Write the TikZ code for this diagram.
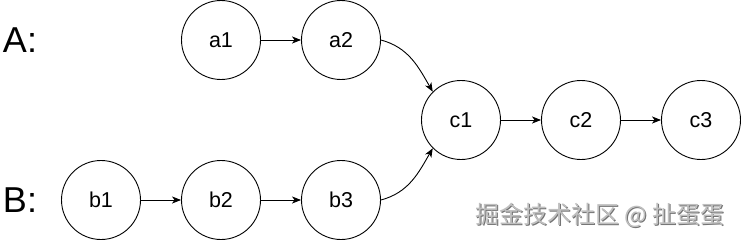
\documentclass[tikz,border=0pt]{standalone}
\usepackage{fontspec}
\setmainfont{Liberation Sans}
\newfontfamily\cjk{Noto Sans CJK SC}
\usetikzlibrary{arrows.meta}
\begin{document}
\begin{tikzpicture}[x=1pt,y=-1pt,
  listnode/.style={circle,draw,line width=0.9pt,minimum size=79pt,inner sep=0pt,font=\fontsize{21.5}{24}\selectfont},
  link/.style={line width=0.9pt,-{Stealth[length=9pt,width=7pt,inset=2.5pt]}},
  rowlabel/.style={font=\fontsize{36}{40}\selectfont,inner sep=0pt}]
\useasboundingbox (0,0) rectangle (742,241);
\node[rowlabel] (la) at (20,40) {A:};
\node[rowlabel] (lb) at (20,200) {B:};
\node[listnode] (a1) at (221,40) {a1};
\node[listnode] (a2) at (341,40) {a2};
\node[listnode] (c1) at (461,120) {c1};
\node[listnode] (c2) at (581,120) {c2};
\node[listnode] (c3) at (701,120) {c3};
\node[listnode] (b1) at (101,200) {b1};
\node[listnode] (b2) at (221,200) {b2};
\node[listnode] (b3) at (341,200) {b3};
\draw[link] (a1) -- (a2);
\draw[link] (b1) -- (b2);
\draw[link] (b2) -- (b3);
\draw[link] (c1) -- (c2);
\draw[link] (c2) -- (c3);
\draw[link] (a2.east) to[out=-15,in=120] (c1.north west);
\draw[link] (b3.east) to[out=15,in=-120] (c1.south west);
\node[font=\cjk\fontsize{24}{27}\selectfont,text=black!55,inner sep=0pt] (wms) at (601,216) {掘金技术社区 @ 扯蛋蛋};
\node[font=\cjk\fontsize{24}{27}\selectfont,text=black!25,inner sep=0pt] (wm) at (600,215) {掘金技术社区 @ 扯蛋蛋};
\end{tikzpicture}
\end{document}
